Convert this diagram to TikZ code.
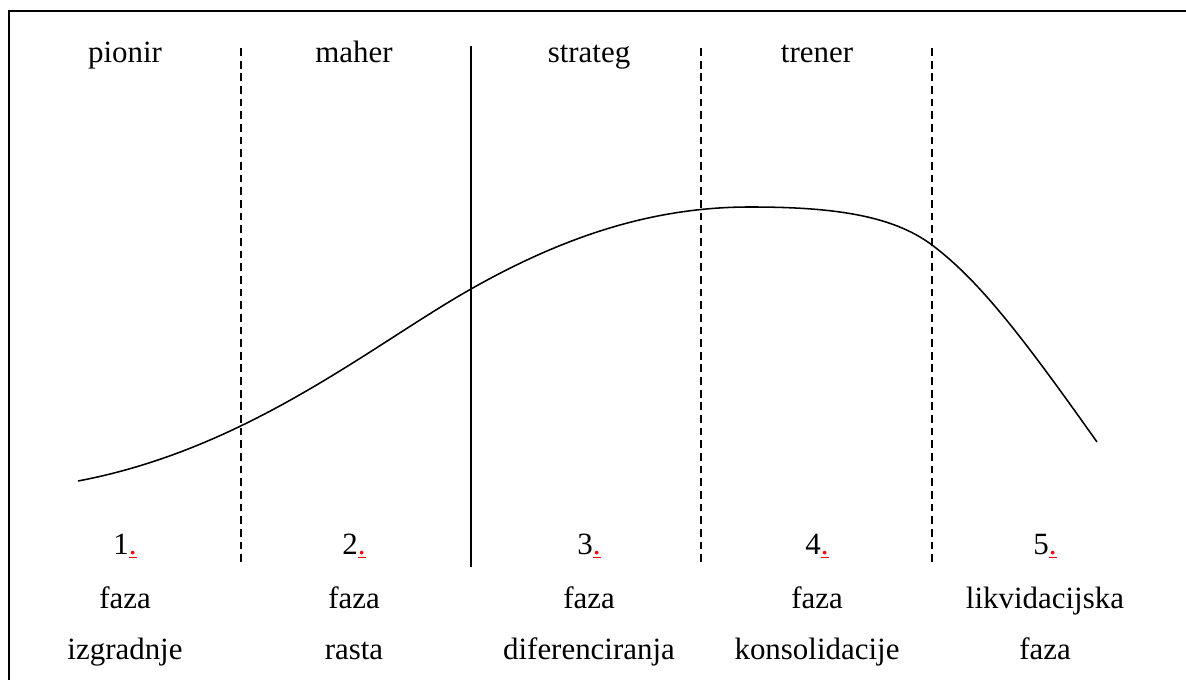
\documentclass[tikz,border=0pt]{standalone}
\usepackage{fontspec}
\setmainfont{Liberation Serif}
\usetikzlibrary{positioning}

\newcommand{\reddot}{\textcolor{red}{\underline{.}}}

\begin{document}
\begin{tikzpicture}[
    lbl/.style={font=\fontsize{22}{26}\selectfont, anchor=base, inner sep=0pt},
    sep/.style={dash pattern=on 5.5pt off 3.5pt, line width=0.9pt},
    wall/.style={line width=1.4pt}]
  \useasboundingbox (0,0) rectangle (29.65,16.975);
  % frame (cut at the right and bottom)
  \draw[wall] (0.225,-0.2) -- (0.225,16.7) -- (29.9,16.7);
  % phase borders
  \draw[sep]  (6.025,2.925) -- (6.025,15.85);
  \draw[wall] (11.775,2.8) -- (11.775,15.825);
  \draw[sep]  (17.525,2.925) -- (17.525,15.85);
  \draw[sep]  (23.3,2.925) -- (23.3,15.85);
  % life cycle curve
  \draw[line width=1.1pt] (1.95,4.95)
    .. controls (6.2,5.75) and (9.3,8.35) .. (11.775,9.75)
    .. controls (14.3,11.18) and (16.5,11.8) .. (18.75,11.8)
    .. controls (20.8,11.8) and (22.3,11.6) .. (23.3,10.85)
    .. controls (24.5,9.95) and (25.6,8.5) .. (27.425,5.925);
  % roles
  \foreach \x/\r [count=\i] in {3.125/pionir, 8.85/maher, 14.725/strateg, 20.425/trener}
    \node[lbl] (role\i) at (\x,15.4) {\r};
  % phases
  \foreach \x/\a/\b [count=\i] in {3.125/faza/izgradnje, 8.85/faza/rasta,
      14.725/faza/diferenciranja, 20.425/faza/konsolidacije, 26.125/likvidacijska/faza} {
    \node[lbl] (num\i) at (\x,3.1) {\i\reddot};
    \node[lbl] (top\i) at (\x,1.775) {\a};
    \node[lbl] (bot\i) at (\x,0.475) {\b};
  }
\end{tikzpicture}
\end{document}
